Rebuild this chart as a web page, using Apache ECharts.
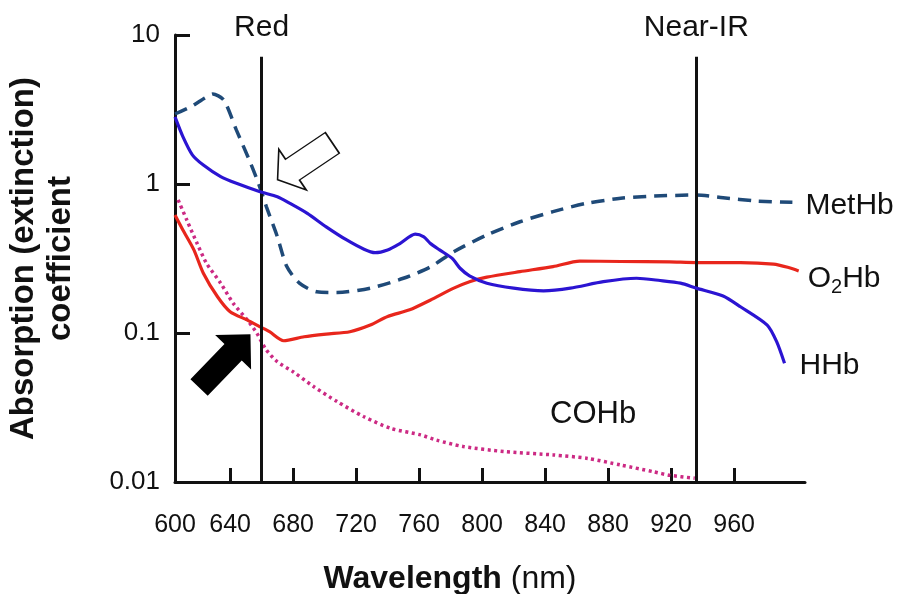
<!DOCTYPE html>
<html>
<head>
<meta charset="utf-8">
<script src="https://cdn.jsdelivr.net/npm/echarts@6/dist/echarts.min.js"></script>
<style>
html,body{margin:0;padding:0;background:#fff;}
#chart{width:900px;height:594px;}
</style>
</head>
<body>
<div id="chart"></div>
<script>
// ---------- data ----------
const xTicks = [640, 680, 720, 760, 800, 840, 880, 920, 960];
const xAxisStart = 605;           // drawn axis origin (labelled "600")
const xAxisStartLabel = '600';
const xAxisEnd = 1005;
const yTickValues = [0.01, 0.1, 1, 10];
const yTickLabels = ['0.01', '0.1', '1', '10'];

const hhbX = [605, 610, 616, 623, 634, 644, 659, 670, 678, 689, 701, 714, 725, 732, 740, 748, 757.5, 763, 767, 773, 781, 786, 792, 803, 820, 839, 856, 877, 898, 913, 926, 936, 953, 964, 981, 987, 992];
const hhbY = [2.82, 2.08, 1.57, 1.34, 1.12, 1.01, 0.887, 0.822, 0.741, 0.635, 0.516, 0.421, 0.365, 0.346, 0.361, 0.400, 0.461, 0.442, 0.400, 0.361, 0.317, 0.272, 0.242, 0.216, 0.200, 0.192, 0.200, 0.221, 0.233, 0.225, 0.216, 0.200, 0.177, 0.150, 0.113, 0.0875, 0.0627];

const metX = [605, 615, 624, 629, 636, 644, 653, 658, 663, 670, 676, 684, 695, 708, 729, 750, 767, 782, 803, 824, 845, 866, 888, 909, 936, 953, 974, 997];
const metY = [2.95, 3.30, 3.78, 4.02, 3.66, 2.30, 1.38, 1.01, 0.705, 0.442, 0.279, 0.216, 0.189, 0.187, 0.200, 0.233, 0.277, 0.351, 0.455, 0.558, 0.652, 0.741, 0.802, 0.830, 0.843, 0.809, 0.769, 0.753];

const o2X = [605, 610, 617, 623, 632, 640, 651, 659, 665, 674, 687, 701, 716, 729, 740, 754, 767, 782, 792, 803, 824, 845, 862, 888, 919, 936, 964, 985, 994, 1001];
const o2Y = [0.619, 0.491, 0.361, 0.252, 0.175, 0.139, 0.122, 0.110, 0.102, 0.0887, 0.0944, 0.0984, 0.102, 0.113, 0.129, 0.143, 0.166, 0.200, 0.221, 0.237, 0.258, 0.279, 0.304, 0.302, 0.300, 0.297, 0.297, 0.290, 0.276, 0.261];

const coX = [607, 612.5, 619, 625, 634, 642, 651, 657, 663, 670, 680, 693, 708, 725, 742, 761, 771, 788, 814, 845, 867, 888, 909, 919, 935];
const coY = [0.782, 0.573, 0.400, 0.294, 0.216, 0.158, 0.122, 0.0995, 0.0769, 0.0641, 0.0549, 0.0437, 0.0346, 0.0274, 0.0229, 0.0207, 0.0191, 0.0173, 0.0160, 0.0152, 0.0144, 0.0130, 0.0117, 0.0111, 0.0106];

const bandLines = [660, 936];
const bandNames = ['Red', 'Near-IR'];
const bandTop = 7.15;
const bandBottom = 0.0101;

const cohbLabelAt = [870.5, 0.0282];
const openArrowAt = [687.5, 1.42];
const solidArrowAt = [636.6, 0.065];

// ---------- chart ----------
const FONT = '"Liberation Sans", Arial, Helvetica, sans-serif';
const INK = '#111111';
const zip = (xs, ys) => xs.map((x, i) => [x, ys[i]]);

const chart = echarts.init(document.getElementById('chart'), null, {renderer: 'canvas'});

const endLbl = (fmt, dist, off) => ({
  show: true, formatter: fmt, distance: dist, offset: off,
  color: INK, fontSize: 30, fontFamily: FONT,
  rich: {
    a: {fontSize: 30, color: INK, fontFamily: FONT},
    s: {fontSize: 20, color: INK, fontFamily: FONT, padding: [18, 0, 0, 0]}
  }
});

const option = {
  animation: false,
  backgroundColor: '#ffffff',
  textStyle: {fontFamily: FONT, color: INK},
  grid: {left: 175, right: 95, top: 35, bottom: 112, containLabel: false, outerBoundsMode: 'none'},
  xAxis: {
    type: 'value',
    min: xAxisStart, max: xAxisEnd,
    name: '{b|Wavelength} {n|(nm)}',
    nameLocation: 'middle',
    nameGap: 81,
    nameMoveOverlap: false,
    nameTextStyle: {
      fontSize: 32, color: INK, padding: [0, 80, 0, 0],
      rich: {
        b: {fontSize: 32, fontWeight: 'bold', color: INK, fontFamily: FONT},
        n: {fontSize: 32, fontWeight: 'normal', color: INK, fontFamily: FONT}
      }
    },
    splitLine: {show: false},
    axisLine: {show: true, onZero: false, lineStyle: {color: INK, width: 3}},
    axisTick: {show: true, inside: true, length: 14, customValues: xTicks, lineStyle: {color: INK, width: 3}},
    axisLabel: {
      show: true, margin: 31, fontSize: 25, color: INK, fontFamily: FONT,
      customValues: [xAxisStart].concat(xTicks),
      formatter: v => (Math.abs(v - xAxisStart) < 1e-6 ? xAxisStartLabel : String(Math.round(v)))
    }
  },
  yAxis: {
    type: 'log', logBase: 10,
    min: 0.01, max: 10,
    name: 'Absorption (extinction)\ncoefficient',
    nameLocation: 'middle',
    nameGap: 96,
    nameMoveOverlap: false,
    nameTextStyle: {fontSize: 33, fontWeight: 'bold', color: INK, lineHeight: 37, fontFamily: FONT},
    splitLine: {show: false},
    minorTick: {show: false},
    axisLine: {show: true, lineStyle: {color: INK, width: 3}},
    axisTick: {show: true, inside: true, length: 15, customValues: yTickValues, lineStyle: {color: INK, width: 3}},
    axisLabel: {
      show: true, margin: 15, fontSize: 26, color: INK, fontFamily: FONT,
      customValues: yTickValues,
      formatter: v => yTickLabels[Math.round(Math.log10(v)) + 2]
    }
  },
  series: [
    {
      name: 'MetHb', type: 'line', data: zip(metX, metY), showSymbol: false, smooth: 0.25,
      lineStyle: {color: '#1f4a78', width: 3.5, type: [13, 8]},
      itemStyle: {color: '#1f4a78'},
      endLabel: endLbl('MetHb', 13, [0, 3]),
      z: 3
    },
    {
      name: 'O2Hb', type: 'line', data: zip(o2X, o2Y), showSymbol: false, smooth: 0.25,
      lineStyle: {color: '#e8261c', width: 3.2},
      itemStyle: {color: '#e8261c'},
      endLabel: endLbl('{a|O}{s|2}{a|Hb}', 9, [0, 8]),
      z: 4
    },
    {
      name: 'HHb', type: 'line', data: zip(hhbX, hhbY), showSymbol: false, smooth: 0.25,
      lineStyle: {color: '#2b14d2', width: 3.2},
      itemStyle: {color: '#2b14d2'},
      endLabel: endLbl('HHb', 15, [0, 3]),
      markLine: {
        silent: true, symbol: ['none', 'none'], animation: false,
        lineStyle: {color: INK, width: 3, type: 'solid'},
        label: {
          show: true, position: 'end', distance: 14,
          fontSize: 30, color: INK, fontFamily: FONT,
          formatter: p => p.name
        },
        data: bandLines.map((x, i) => [
          {coord: [x, bandBottom], name: bandNames[i]},
          {coord: [x, bandTop], name: bandNames[i]}
        ])
      },
      markPoint: {
        silent: true, animation: false,
        label: {show: false},
        data: [
          {
            coord: openArrowAt,
            symbol: 'path://M24.5,0 L49,18 L37,18 L37,66 L12,66 L12,18 L0,18 Z',
            symbolSize: [49, 66], symbolRotate: 124,
            itemStyle: {color: '#ffffff', borderColor: INK, borderWidth: 1.5}
          },
          {
            coord: solidArrowAt,
            symbol: 'path://M25,0 L50,25 L37,25 L37,74 L13,74 L13,25 L0,25 Z',
            symbolSize: [50, 74], symbolRotate: -44,
            itemStyle: {color: '#000000', borderWidth: 0}
          }
        ]
      },
      z: 5
    },
    {
      name: 'COHb', type: 'line', data: zip(coX, coY), showSymbol: false, smooth: 0.25,
      lineStyle: {color: '#cc2a84', width: 3.5, type: [3, 3.5]},
      itemStyle: {color: '#cc2a84'},
      markPoint: {
        silent: true, animation: false,
        symbol: 'circle', symbolSize: 2,
        itemStyle: {color: 'rgba(0,0,0,0)'},
        label: {show: true, position: 'inside', formatter: 'COHb', fontSize: 31, color: INK, fontFamily: FONT},
        data: [{coord: cohbLabelAt}]
      },
      z: 2
    }
  ]
};
chart.setOption(option);
</script>
</body>
</html>
